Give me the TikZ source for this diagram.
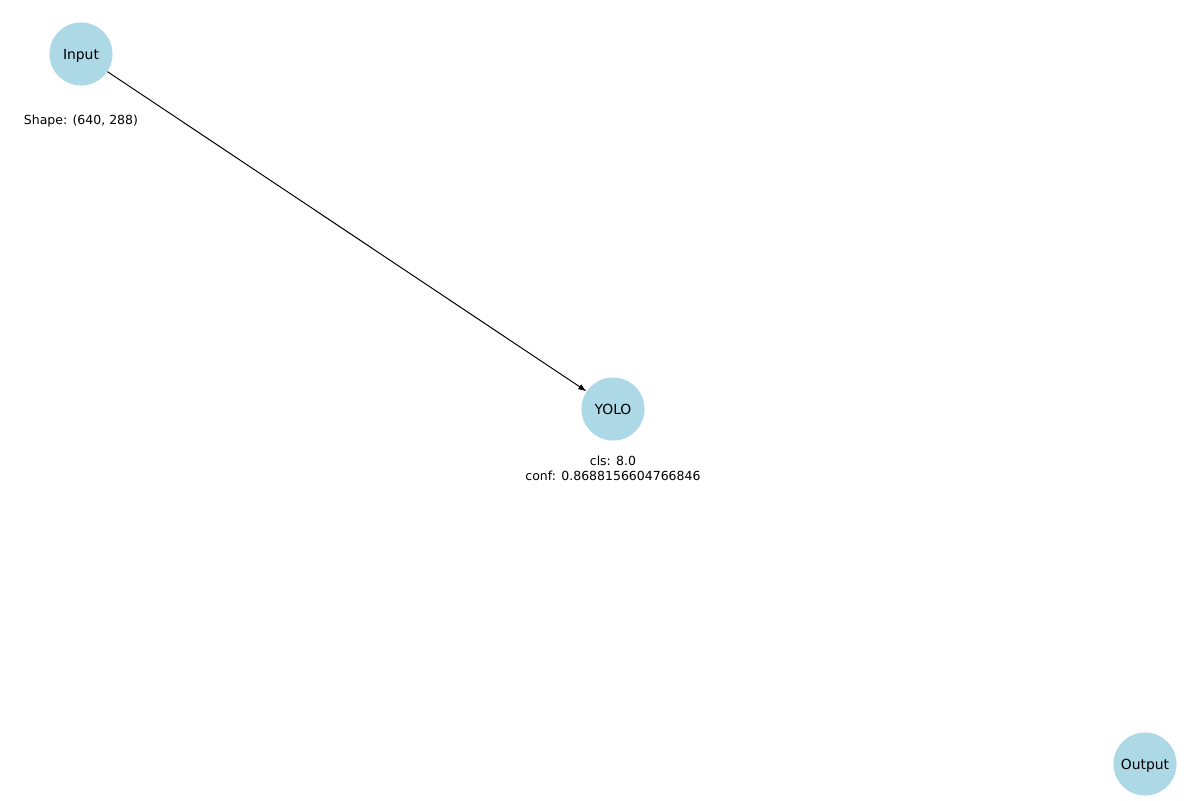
\documentclass[tikz,border=0pt]{standalone}
\usepackage{fontspec}
\setmainfont{DejaVu Sans}
\usetikzlibrary{arrows.meta}
\definecolor{nodeblue}{HTML}{ADD8E6}

\begin{document}
\begin{tikzpicture}[x=0.72pt, y=-0.72pt,
			layer/.style={circle, fill=nodeblue, minimum size=45.4pt, inner sep=0pt, text depth=0pt, font=\fontsize{10}{12}\selectfont},
			info/.style={align=center, inner sep=0pt, font=\fontsize{9}{10.8}\selectfont},
			>={Latex[length=6pt, width=4.2pt]}]
			% Bildbereich
			\useasboundingbox (0,0) rectangle (1200,800);
			% Knoten zeichnen
			\foreach \name/\x/\y in {Input/81/54, YOLO/613/409, Output/1145/764}
				\node[layer] (\name) at (\x,\y) {\name};
			% Beschriftung
			\node[info] (shape) at (81,121) {Shape: (640, 288)};
			\node[info] (pred) at (613,468) {cls: 8.0\\conf: 0.8688156604766846};
			% Kante
			\draw[->, line width=0.72pt] (Input) -- (YOLO);
		\end{tikzpicture}
\end{document}
